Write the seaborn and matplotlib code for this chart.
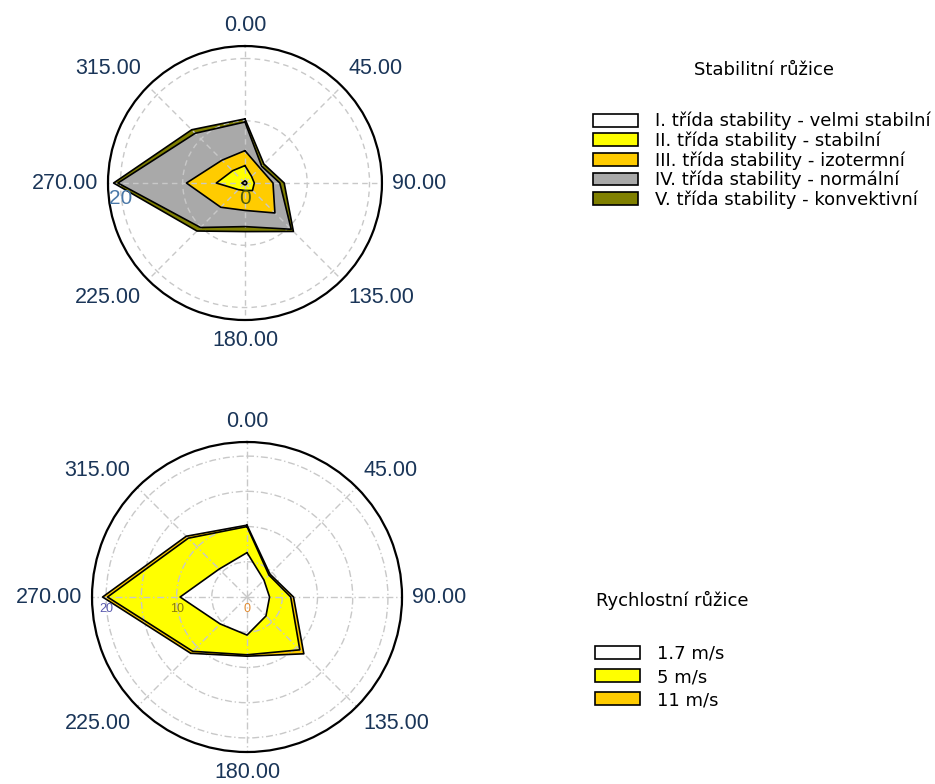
import numpy as np
import matplotlib
matplotlib.use("Agg")
import matplotlib.pyplot as plt
from matplotlib.patches import Patch
import seaborn as sns

# ---------------- data ----------------
directions = [0, 45, 90, 135, 180, 225, 270, 315]
angle_labels = ["0.00", "45.00", "90.00", "135.00", "180.00", "225.00", "270.00", "315.00"]

# Stability rose (per-class share, stacked)
stab_title = "Stabilitní růžice"
stab_labels = [
    "I. třída stability - velmi stabilní",
    "II. třída stability - stabilní",
    "III. třída stability - izotermní",
    "IV. třída stability - normální",
    "V. třída stability - konvektivní",
]
stab_colors = ["#ffffff", "#ffff00", "#ffcc00", "#a9a9a9", "#808000"]
stab_I = [0.3, 0.3, 0.3, 0.3, 0.3, 0.3, 0.5, 0.3]
stab_II = [2.5, 1.2, 1.2, 1.4, 0.9, 1.2, 4.1, 2.5]
stab_III = [2.4, 1.9, 3.0, 5.1, 3.2, 4.0, 4.8, 2.4]
stab_IV = [4.6, 0.4, 1.1, 3.7, 2.6, 4.6, 11.0, 6.1]
stab_V = [0.5, 0.5, 0.7, 0.5, 0.8, 0.8, 0.7, 0.8]
stab_rticks = [0, 10, 20]
stab_rlabels = ["0", "", "20"]
stab_rlabel_colors = ["#4a5a10", "#4a5a10", "#4a78a8"]

# Speed rose (per-class share, stacked)
speed_title = "Rychlostní růžice"
speed_labels = ["1.7 m/s", "5 m/s", "11 m/s"]
speed_colors = ["#ffffff", "#ffff00", "#ffcc00"]
speed_1 = [6.3, 3.4, 3.2, 3.8, 5.4, 5.4, 9.5, 5.6]
speed_5 = [3.7, 1.0, 3.0, 6.8, 2.8, 5.5, 10.3, 6.2]
speed_11 = [0.2, 0.2, 0.4, 0.8, 0.2, 0.4, 0.7, 0.4]
speed_rticks = [0, 5, 10, 15, 20]
speed_rlabels = ["0", "", "10", "", "20"]
speed_rlabel_colors = ["#e08a30", "#e08a30", "#8a7a10", "#8a7a10", "#5a5ab0"]

r_max = 22

# ---------------- style ----------------
sns.set_style("white")
plt.rcParams["font.family"] = ["Liberation Sans", "DejaVu Sans"]

fig = plt.figure(figsize=(9.35, 7.84), dpi=100)
ax_top = fig.add_axes([0.1155, 0.5918, 0.293, 0.3495], projection="polar")
ax_bot = fig.add_axes([0.0984, 0.0408, 0.3316, 0.3954], projection="polar")

label_color = "#1a3558"


def draw_rose(ax, series, colors, rticks, rlabels, rlabel_colors, grid_ls, rlab_size):
    theta = np.deg2rad(directions + [directions[0]])
    cum = np.cumsum(np.array(series, dtype=float), axis=0)
    ax.set_theta_zero_location("N")
    ax.set_theta_direction(-1)
    ax.set_ylim(0, r_max)
    ax.set_facecolor("white")
    ax.set_axisbelow("line")
    # largest (outermost) first
    for i in range(len(series) - 1, -1, -1):
        r = list(cum[i]) + [cum[i][0]]
        ax.fill(theta, r, color=colors[i], zorder=1, linewidth=0)
        sns.lineplot(x=theta, y=r, sort=False, estimator=None, color="black",
                     linewidth=1.2, ax=ax, zorder=2)
    ax.set_xticks(np.deg2rad(directions))
    ax.set_xticklabels([])
    ax.set_yticks(rticks)
    ax.set_yticklabels([])
    ax.grid(True, color="#c8c8c8", linestyle=grid_ls, linewidth=1.0)
    ax.spines["polar"].set_color("black")
    ax.spines["polar"].set_linewidth(1.6)
    ax.tick_params(axis="x", direction="out", length=6, width=1.2, colors="black")
    ax.tick_params(axis="y", length=0)
    ax.set_xlabel("")
    ax.set_ylabel("")
    # angle labels around the circle, anchored by their nearest side
    gap = 7
    for d, lab in zip(directions, angle_labels):
        a = np.deg2rad(d)
        dx, dy = np.sin(a), np.cos(a)
        ha = "left" if dx > 0.1 else ("right" if dx < -0.1 else "center")
        va = "bottom" if dy > 0.1 else ("top" if dy < -0.1 else "center")
        ax.annotate(lab, xy=(a, r_max), xytext=(gap * dx, gap * dy),
                    textcoords="offset points", ha=ha, va=va, fontsize=15.5,
                    color=label_color, annotation_clip=False)
    # radial labels along the 270 direction
    for rv, lab, c in zip(rticks, rlabels, rlabel_colors):
        if lab:
            ax.annotate(lab, xy=(np.deg2rad(270), rv), xytext=(0, -4),
                        textcoords="offset points", ha="center", va="top",
                        fontsize=rlab_size, color=c, zorder=3,
                        annotation_clip=False)


draw_rose(ax_top, [stab_I, stab_II, stab_III, stab_IV, stab_V], stab_colors,
          stab_rticks, stab_rlabels, stab_rlabel_colors, (0, (4, 3)), 15)
draw_rose(ax_bot, [speed_1, speed_5, speed_11], speed_colors,
          speed_rticks, speed_rlabels, speed_rlabel_colors, (0, (5, 2, 1, 2)), 9)

# ---------------- legends ----------------
leg_fs = 13
leg_font = ["DejaVu Sans"]
fig.text(764 / 935, 1 - 70 / 784, stab_title, ha="center", va="center",
         fontsize=leg_fs, family=leg_font, color="black")
h1 = [Patch(facecolor=c, edgecolor="black", linewidth=1.2) for c in stab_colors]
leg1 = fig.legend(h1, stab_labels, loc="upper left",
                  bbox_to_anchor=(593 / 935, 1 - 112 / 784),
                  frameon=False, prop={"family": leg_font, "size": leg_fs},
                  handlelength=2.5, handleheight=0.7, handletextpad=0.95,
                  labelspacing=0.06, borderpad=0, borderaxespad=0, labelcolor="black")

fig.text(672 / 935, 1 - 600 / 784, speed_title, ha="center", va="center",
         fontsize=leg_fs, family=leg_font, color="black")
h2 = [Patch(facecolor=c, edgecolor="black", linewidth=1.2) for c in speed_colors]
leg2 = fig.legend(h2, speed_labels, loc="upper left",
                  bbox_to_anchor=(595 / 935, 1 - 645 / 784),
                  frameon=False, prop={"family": leg_font, "size": leg_fs},
                  handlelength=2.5, handleheight=0.7, handletextpad=0.95,
                  labelspacing=0.28, borderpad=0, borderaxespad=0, labelcolor="black")

fig.savefig("out.png", dpi=100, facecolor="white")
